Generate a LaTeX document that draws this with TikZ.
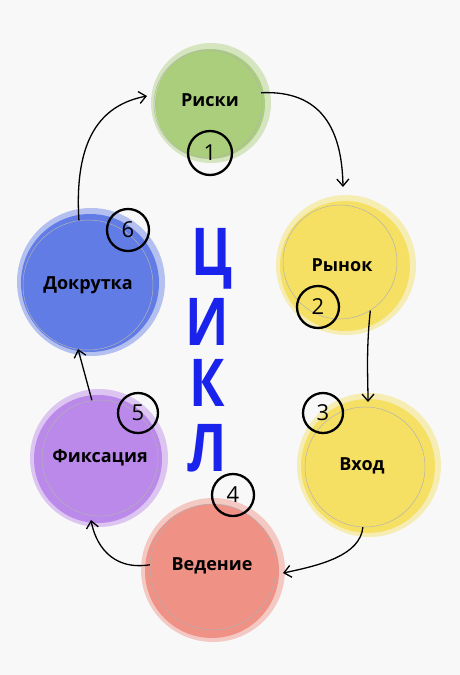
\documentclass[tikz,border=0pt]{standalone}
\usepackage{fontspec}
\setmainfont{Open Sans}
\usetikzlibrary{arrows.meta}
\definecolor{bg}{RGB}{248,248,248}
\definecolor{cgreen}{RGB}{160,201,108}
\definecolor{cyellow}{RGB}{245,221,80}
\definecolor{csalmon}{RGB}{238,132,118}
\definecolor{cpurple}{RGB}{178,122,232}
\definecolor{cblue}{RGB}{78,108,228}
\definecolor{cik}{RGB}{25,35,235}
\newcommand\wcblob[4]{%
  \fill[#4, opacity=0.40] (#1+1,#2) circle[radius=#3pt+3pt];
  \fill[#4, opacity=0.80] (#1,#2+1) circle[radius=#3pt-2pt];
}
\tikzset{
  ring/.style={circle, draw=black!30, line width=0.5pt, inner sep=0pt},
  lbl/.style={font=\bfseries\fontsize{18}{18}\selectfont, text=black},
  numc/.style={circle, draw=black, line width=2.3pt, inner sep=0pt, font=\fontsize{22}{22}\selectfont},
  arr/.style={line width=1.3pt, -{Straight Barb[length=7pt,width=12pt,line width=1.3pt]}},
  cikl/.style={text=cik, font=\bfseries\fontsize{66}{66}\selectfont, xscale=0.8, transform shape, inner sep=0pt, text height=47pt, text depth=0pt},
}
\begin{document}
\begin{tikzpicture}[x=1pt,y=-1pt]
\useasboundingbox (0,0) rectangle (460,675);
\fill[bg] (0,0) rectangle (460,675);
% blobs
\wcblob{210}{103}{57}{cgreen}
\wcblob{345}{265}{67}{cyellow}
\wcblob{368}{465}{69}{cyellow}
\wcblob{212}{570}{69}{csalmon}
\wcblob{98}{458}{66}{cpurple}
\wcblob{90}{282}{71}{cblue}
% rings with labels
\node[ring, minimum size=108pt] (risk) at (208,104) {};
\node[lbl] at (210,100) {Риски};
\node[ring, minimum size=114pt] (market) at (340,262) {};
\node[lbl] at (342,265) {Рынок};
\node[ring, minimum size=120pt] (entry) at (365,467) {};
\node[lbl] at (362,466) {Вход};
\node[ring, minimum size=126pt] (manage) at (213,567) {};
\node[lbl] at (212,566) {Ведение};
\node[ring, minimum size=116pt] (fix) at (100,458) {};
\node[lbl] at (100,458) {Фиксация};
\node[ring, minimum size=130pt] (push) at (88,285) {};
\node[lbl] at (88,285) {Докрутка};
% number circles
\node[numc, minimum size=44pt] (n1) at (210,153) {1};
\node[numc, minimum size=42pt] (n2) at (318,307) {2};
\node[numc, minimum size=40pt] (n3) at (323,413) {3};
\node[numc, minimum size=42pt] (n4) at (233,495) {4};
\node[numc, minimum size=40pt] (n5) at (138,413) {5};
\node[numc, minimum size=42pt] (n6) at (128,230) {6};
% arrows
\draw[arr] (risk.12) .. controls (322,90) and (342,130) .. (343,187);
\draw[arr] (market.-58) .. controls (366,350) and (368,380) .. (368,402);
\draw[arr] (entry.-92) .. controls (360,555) and (322,565) .. (283,573);
\draw[arr] (manage.178) .. controls (110,571) and (95,542) .. (91,520);
\draw[arr] (fix.98) -- (78,349);
\draw[arr] (push.98) .. controls (74,140) and (100,105) .. (147,96);
% ЦИКЛ
\node[cikl] (c1) at (212,252) {Ц};
\node[cikl] (c2) at (207,322) {И};
\node[cikl] (c3) at (207,383) {К};
\node[cikl] (c4) at (207,448) {Л};
\end{tikzpicture}
\end{document}
